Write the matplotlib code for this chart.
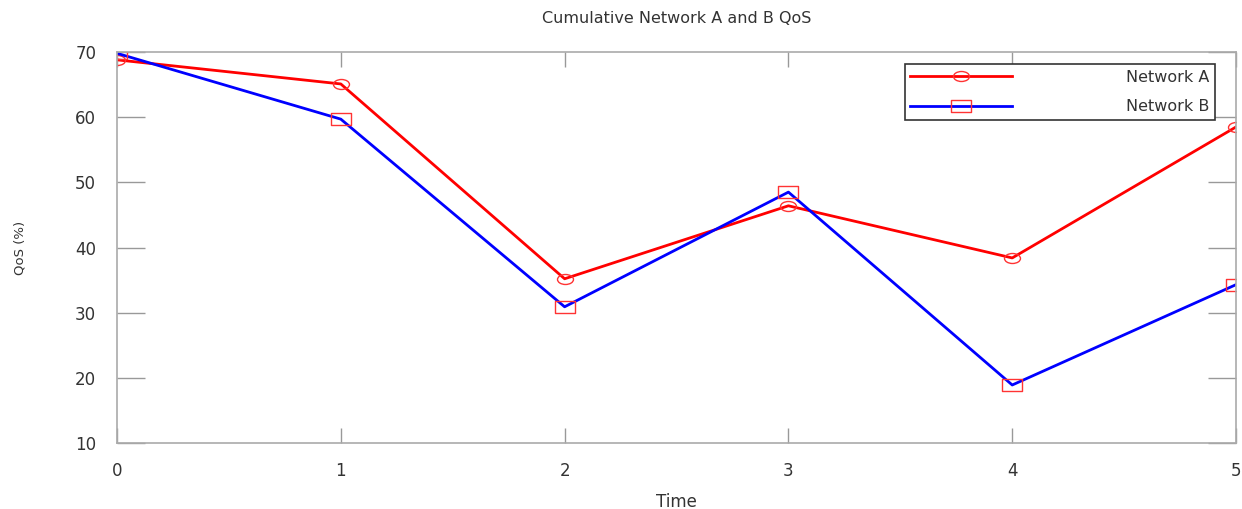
import matplotlib
matplotlib.use('Agg')
import matplotlib.pyplot as plt
from matplotlib.path import Path
from matplotlib.transforms import Affine2D

# values
time = [0, 1, 2, 3, 4, 5]
qos_a = [68.8, 65.1, 35.2, 46.4, 38.4, 58.5]
qos_b = [69.8, 59.7, 30.9, 48.5, 18.9, 34.3]
y_ticks = [10, 20, 30, 40, 50, 60, 70]

plt.rcParams['font.family'] = ['DejaVu Sans']

# the reference picture is stretched sideways, so are its markers
wide_circle = Affine2D().scale(1.6, 1.0).transform_path(Path.unit_circle())
wide_square = Path([(-1.65, -1), (1.65, -1), (1.65, 1), (-1.65, 1), (-1.65, -1)],
                   closed=True)

fig = plt.figure(figsize=[12.42, 5.09], dpi=100)
ax = fig.add_axes([0.0942, 0.1297, 0.9010, 0.7681])

ax.plot(time, qos_a, color='#ff0000', lw=2.0, marker=wide_circle, ms=11.5,
        mfc='none', mec='#ff3333', mew=1.0, label='Network A')
ax.plot(time, qos_b, color='#0000ff', lw=2.0, marker=wide_square, ms=14,
        mfc='none', mec='#ff3333', mew=1.0, label='Network B')

ax.set_xlim(0, 5)
ax.set_ylim(10, 70)
ax.set_yticks(y_ticks)
ax.set_xticks(time)

for s in ax.spines.values():
    s.set_color('#aaaaaa')
    s.set_linewidth(1.2)

ax.tick_params(axis='x', direction='in', length=11, width=1, color='#999999',
               top=True, pad=14, labelsize=12, labelcolor='#333333')
ax.tick_params(axis='y', direction='in', length=20, width=1, color='#999999',
               right=True, pad=15, labelsize=12, labelcolor='#333333')

ax.set_title('Cumulative Network A and B QoS', fontsize=11.5, color='#333333', pad=21)
ax.set_xlabel('Time', fontsize=12, color='#333333', labelpad=9)
ax.set_ylabel('QoS (%)', fontsize=9.5, color='#333333', labelpad=35)

leg = ax.legend(loc='upper right', bbox_to_anchor=(0.981, 0.969), borderaxespad=0,
                fontsize=11.5, handlelength=6.4, handletextpad=7.1,
                fancybox=False, framealpha=1, borderpad=0.35, labelspacing=0.9)
leg.get_frame().set_edgecolor('#333333')
leg.get_frame().set_linewidth(1.2)
for t in leg.get_texts():
    t.set_color('#333333')

fig.savefig('out.png', dpi=100)
